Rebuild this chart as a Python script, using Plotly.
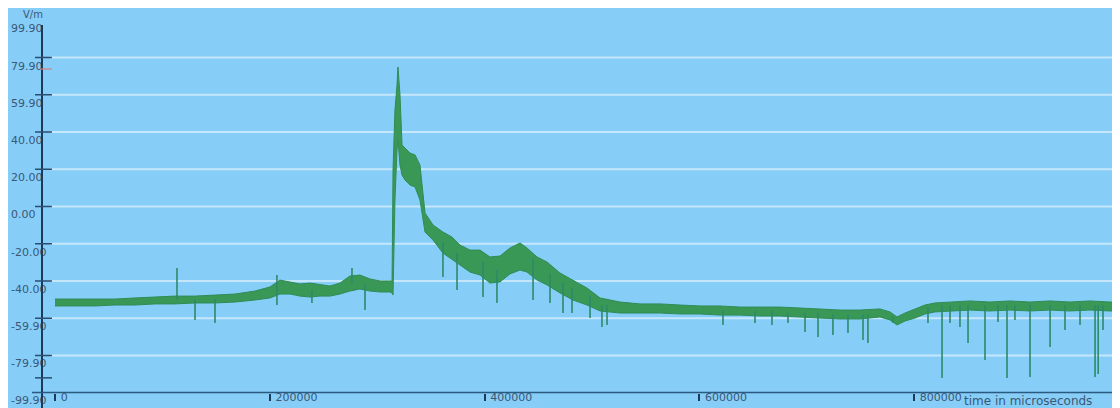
import plotly.graph_objects as go

# ---------------- data ----------------
time_us = [0, 18600, 37300, 55900, 74500, 93100, 111800, 130400, 149000, 167600,
           186300, 200200, 209500, 218900, 228200, 237500, 246800, 256100, 265400, 274700,
           284000, 293400, 302700, 312000, 313900, 314800, 316600, 318500, 319400, 321300,
           323200, 326000, 330600, 335300, 339900, 344600, 352000, 361300, 369700, 377200,
           386500, 395800, 405100, 414400, 423700, 433100, 439600, 448900, 458200, 470300,
           482400, 495500, 507600, 526200, 544800, 563400, 582100, 600700, 619300, 637900,
           656600, 675200, 693800, 712400, 731100, 749700, 768300, 777600, 784100, 791600,
           800900, 810200, 819500, 833500, 852000, 870600, 889300, 907900, 926600, 945200,
           963800, 982400, 989600]
upper_vm = [-49.7, -49.7, -49.7, -49.7, -49.1, -48.6, -48.1, -48.1, -47.5, -47.0,
            -45.4, -43.2, -39.5, -40.5, -41.6, -41.1, -42.1, -42.7, -41.1, -37.3,
            -36.8, -38.9, -40.0, -40.0, -40.0, 19.6, 51.8, 65.2, 74.9, 59.9,
            33.0, 31.4, 28.7, 27.7, 22.3, -3.5, -9.9, -13.7, -16.4, -20.7,
            -23.4, -23.4, -27.1, -26.6, -22.3, -19.6, -22.3, -27.1, -29.8, -35.7,
            -39.5, -43.8, -49.1, -51.3, -52.3, -52.3, -52.9, -53.4, -53.4, -54.0,
            -54.0, -54.0, -54.5, -55.0, -55.6, -55.6, -55.0, -56.6, -59.3, -57.2,
            -55.0, -52.9, -51.8, -51.3, -50.7, -51.3, -50.7, -51.3, -50.7, -51.3,
            -50.7, -51.3, -51.3]
lower_vm = [-53.4, -53.4, -53.4, -52.9, -52.9, -52.3, -52.3, -51.8, -51.8, -51.3,
            -50.2, -49.1, -47.0, -47.0, -48.1, -48.6, -48.1, -48.1, -47.0, -45.4,
            -44.3, -45.4, -45.9, -45.9, -46.4, -47.5, 3.5, 30.3, 35.7, 22.3,
            16.9, 14.2, 11.5, 10.5, 3.5, -13.7, -18.0, -25.0, -28.7, -31.4,
            -35.2, -36.8, -41.1, -40.5, -36.2, -34.1, -35.2, -39.5, -42.1, -46.4,
            -50.2, -52.9, -56.1, -57.2, -57.2, -57.2, -57.7, -57.7, -58.3, -58.3,
            -58.8, -58.8, -59.3, -59.9, -60.4, -60.4, -59.3, -60.9, -63.6, -61.5,
            -59.9, -57.7, -56.6, -56.1, -55.6, -56.1, -55.6, -56.1, -55.6, -56.1,
            -55.6, -56.1, -56.1]

spike_time_us = [113600, 130400, 149000, 206700, 206700, 239300, 276600, 288700,
                 361300, 374400, 398600, 411600, 445200, 461000, 473100, 481500, 498300,
                 509400, 514100, 622100, 651900, 667700, 682600, 698500, 710600, 724500,
                 738500, 752500, 757100, 780400, 813000, 826100, 833500, 842800, 850300,
                 866100, 878200, 886600, 894000, 908000, 926700, 940600, 954600, 968600,
                 971500, 976000, 989000]
spike_from_vm = [-50.0, -50.0, -49.6, -44.0, -44.0, -45.0, -41.0, -42.0,
                 -19.0, -25.0, -30.0, -34.0, -28.0, -36.0, -41.0, -44.0, -48.0,
                 -53.0, -53.0, -56.0, -56.0, -56.0, -57.0, -57.0, -57.0, -58.0,
                 -58.0, -58.0, -58.0, -59.0, -54.0, -53.0, -53.0, -53.0, -53.0,
                 -53.0, -53.0, -53.0, -53.0, -53.0, -53.0, -53.0, -53.0, -53.0,
                 -53.0, -53.0, -53.0]
spike_to_vm = [-33.0, -60.9, -62.6, -36.8, -52.9, -51.8, -33.0, -55.6,
               -37.9, -44.8, -48.6, -51.8, -50.2, -51.8, -57.2, -57.2, -59.9,
               -64.7, -63.6, -63.6, -62.6, -63.6, -62.6, -67.4, -70.1, -69.0,
               -67.9, -71.7, -73.3, -62.6, -62.6, -92.1, -62.6, -64.7, -73.3,
               -82.4, -62.0, -92.1, -60.9, -91.5, -75.4, -66.3, -63.6, -91.5,
               -90.0, -66.3, -91.5]

y_tick_values = [99.9, 79.9, 59.9, 40.0, 20.0, 0.0, -20.0, -40.0, -59.9, -79.9, -99.9]
y_tick_labels = ["99.90", "79.90", "59.90", "40.00", "20.00", "0.00",
                 "-20.00", "-40.00", "-59.90", "-79.90", "-99.90"]
x_tick_values = [0, 200000, 400000, 600000, 800000]
x_tick_labels = ["0", "200000", "400000", "600000", "800000"]
grid_values = [80, 60, 40, 20, 0, -20, -40, -60, -80]
axis_mark_values = [80, 60, 40, 20, 0, -20, -40, -60, -80, -92]

# ---------------- style / geometry ----------------
# The page body adds an 8px margin; the figure fills the rest of the window.
W, H = 1112, 400
OX, OY = 8, 8


def fx(px):
    return (px - OX) / W


def fy(py):
    return (OY + H - py) / H


X_RANGE = [-43770, 991830]
Y_RANGE = [-108.19, 106.58]
BG = "#86cdf8"
GRID = "#c6e7fb"
AXIS = "#1d3a5a"
TXT = "#3b5875"
GREEN = "#3a9856"
FONT = "DejaVu Sans"

fig = go.Figure()

band_x = time_us + time_us[::-1]
band_y = upper_vm + lower_vm[::-1]
fig.add_trace(go.Scatter(x=band_x, y=band_y, mode="lines", fill="toself",
                         fillcolor=GREEN, line=dict(color="#2f8c55", width=1),
                         hoverinfo="skip", showlegend=False))

sx, sy = [], []
for t, a, b in zip(spike_time_us, spike_from_vm, spike_to_vm):
    sx += [t, t, None]
    sy += [a, b, None]
fig.add_trace(go.Scatter(x=sx, y=sy, mode="lines",
                         line=dict(color="#2c8a6a", width=1.6),
                         hoverinfo="skip", showlegend=False))

shapes = []
for g in grid_values:
    shapes.append(dict(type="line", xref="paper", yref="y", x0=fx(50), x1=1, y0=g, y1=g,
                       line=dict(color=GRID, width=2), layer="below"))
# y axis line
shapes.append(dict(type="line", xref="paper", yref="y", x0=fx(42), x1=fx(42),
                   y0=97.5, y1=Y_RANGE[0], line=dict(color=AXIS, width=2)))
for m in axis_mark_values:
    shapes.append(dict(type="line", xref="paper", yref="y", x0=fx(35), x1=fx(52),
                       y0=m, y1=m, line=dict(color="#2a4d70", width=1.5)))
shapes.append(dict(type="line", xref="paper", yref="y", x0=fx(40), x1=fx(52),
                   y0=73.8, y1=73.8, line=dict(color="#d98080", width=1.2)))
# x axis line
shapes.append(dict(type="line", xref="paper", yref="y", x0=fx(32), x1=1,
                   y0=-99.9, y1=-99.9, line=dict(color="#2a5a80", width=1.5)))

xpos = (-99.9 - Y_RANGE[0]) / (Y_RANGE[1] - Y_RANGE[0])

fig.update_layout(
    width=W, height=H,
    margin=dict(l=0, r=0, t=0, b=0),
    paper_bgcolor="white", plot_bgcolor=BG,
    shapes=shapes,
    showlegend=False,
    xaxis=dict(range=X_RANGE, anchor="free", position=xpos,
               tickvals=x_tick_values, ticktext=x_tick_labels,
               ticks="outside", ticklen=7, tickwidth=1.5, tickcolor=AXIS,
               ticklabelposition="outside right", ticklabelstandoff=-6,
               ticklabelshift=5,
               tickfont=dict(family=FONT, size=11, color=TXT),
               showgrid=False, zeroline=False, showline=False, fixedrange=True),
    yaxis=dict(range=Y_RANGE, tickvals=y_tick_values, ticktext=y_tick_labels,
               ticks="", ticklabelposition="inside", ticklabelshift=8,
               ticklabeloverflow="allow",
               tickfont=dict(family=FONT, size=11, color=TXT),
               showgrid=False, zeroline=False, showline=False, fixedrange=True),
    annotations=[
        dict(text="V/m", xref="paper", yref="paper", x=fx(33), y=fy(14),
             showarrow=False, xanchor="center", yanchor="middle",
             font=dict(family=FONT, size=10, color=TXT)),
        dict(text="time in microseconds", xref="paper", yref="paper",
             x=fx(962), y=fy(400.5), showarrow=False,
             xanchor="left", yanchor="middle",
             font=dict(family=FONT, size=12, color=TXT)),
    ],
)

fig.write_html("out.html")
